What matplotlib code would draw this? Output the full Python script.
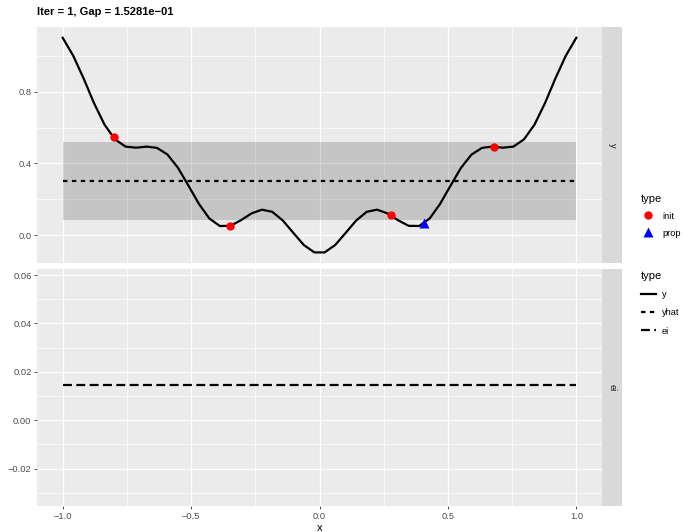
import matplotlib
matplotlib.use("Agg")
import matplotlib.pyplot as plt
from matplotlib.lines import Line2D
from matplotlib.ticker import FuncFormatter

plt.rcParams['font.family'] = ['Liberation Sans', 'DejaVu Sans']

# data
x = [-1.000, -0.959, -0.918, -0.878, -0.837, -0.796, -0.755, -0.714, -0.673, -0.633,
     -0.592, -0.551, -0.510, -0.469, -0.429, -0.388, -0.347, -0.306, -0.265, -0.224,
     -0.184, -0.143, -0.102, -0.061, -0.020, 0.020, 0.061, 0.102, 0.143, 0.184,
     0.224, 0.265, 0.306, 0.347, 0.388, 0.429, 0.469, 0.510, 0.551, 0.592,
     0.633, 0.673, 0.714, 0.755, 0.796, 0.837, 0.878, 0.918, 0.959, 1.000]
y = [1.100, 1.000, 0.872, 0.736, 0.616, 0.534, 0.494, 0.488, 0.494, 0.487,
     0.450, 0.376, 0.276, 0.174, 0.094, 0.052, 0.053, 0.084, 0.122, 0.143,
     0.131, 0.083, 0.014, -0.054, -0.095, -0.095, -0.054, 0.014, 0.083, 0.131,
     0.143, 0.122, 0.084, 0.053, 0.052, 0.094, 0.174, 0.276, 0.376, 0.450,
     0.487, 0.494, 0.488, 0.494, 0.534, 0.616, 0.736, 0.872, 1.000, 1.100]

init_x = [-0.800, -0.350, 0.277, 0.680]
init_y = [0.545, 0.054, 0.115, 0.494]
prop_x = [0.408]
prop_y = [0.066]

yhat = 0.302
band_lo = 0.083
band_hi = 0.522
ei = 0.0145

title = "Iter = 1, Gap = 1.5281e\u221201"

W, H = 683, 532
fig = plt.figure(figsize=(W / 100, H / 100), dpi=100)

TICK_FS = 6.7


def px(l, t, r, b):
    return [l / W, 1 - b / H, (r - l) / W, (b - t) / H]


def fmt(nd):
    return FuncFormatter(lambda v, p: f"{v:.{nd}f}".replace('-', '\u2212'))


def style(ax, yticks, yminor, ylim, label):
    ax.set_facecolor('#EBEBEB')
    ax.set_xlim(-1.1, 1.1)
    ax.set_ylim(*ylim)
    for s in ax.spines.values():
        s.set_visible(False)
    ax.set_xticks([-1.0, -0.5, 0.0, 0.5, 1.0])
    ax.set_xticks([-0.75, -0.25, 0.25, 0.75], minor=True)
    ax.set_yticks(yticks)
    ax.set_yticks(yminor, minor=True)
    ax.grid(True, which='major', color='white', lw=1.0)
    ax.grid(True, which='minor', color='white', lw=0.5)
    ax.set_axisbelow(True)
    ax.tick_params(which='major', length=2.5, width=0.6, color='#333333',
                   labelsize=TICK_FS, labelcolor='#4D4D4D', pad=1.5)
    ax.tick_params(which='minor', length=0)
    # facet strip on the right
    pos = ax.get_position()
    st = fig.add_axes([pos.x1, pos.y0, 20 / W, pos.height])
    st.set_facecolor('#D9D9D9')
    st.set_xticks([])
    st.set_yticks([])
    for s in st.spines.values():
        s.set_visible(False)
    st.text(0.5, 0.5, label, rotation=270, ha='center', va='center',
            fontsize=TICK_FS, color='#1A1A1A', transform=st.transAxes)


ax1 = fig.add_axes(px(37, 27, 602, 263))
ax2 = fig.add_axes(px(37, 269, 602, 506))

style(ax1, [0.0, 0.4, 0.8], [0.2, 0.6, 1.0], (-0.154, 1.160), 'y')
style(ax2, [-0.02, 0.0, 0.02, 0.04, 0.06], [-0.03, -0.01, 0.01, 0.03, 0.05],
      (-0.0355, 0.0625), 'ei')

ax1.tick_params(axis='x', labelbottom=False, length=0)
ax1.yaxis.set_major_formatter(fmt(1))
ax2.yaxis.set_major_formatter(fmt(2))
ax2.xaxis.set_major_formatter(fmt(1))

lw = 1.6
ax1.fill_between([x[0], x[-1]], band_lo, band_hi, color='black', alpha=0.16, lw=0)
ax1.plot(x, y, color='black', lw=lw, solid_joinstyle='round')
ax1.plot([x[0], x[-1]], [yhat, yhat], color='black', lw=lw, dashes=(2, 2))
ax1.plot(init_x, init_y, 'o', color='red', ms=6, mec='none', zorder=5)
ax1.plot(prop_x, prop_y, '^', color='blue', ms=6.5, mec='none', zorder=5)

ax2.plot([x[0], x[-1]], [ei, ei], color='black', lw=lw, dashes=(4, 2))

ax2.set_xlabel('x', fontsize=8, color='black', labelpad=1.5)

fig.text(37 / W, 1 - 12 / H, title, fontsize=8, fontweight='bold',
         ha='left', va='center')

leg_kw = dict(loc='upper left', frameon=False, fontsize=TICK_FS,
              title_fontsize=8, alignment='left', handlelength=1.6,
              handletextpad=0.7, borderaxespad=0)

h1 = [Line2D([], [], marker='o', color='red', ls='None', ms=6, mec='none'),
      Line2D([], [], marker='^', color='blue', ls='None', ms=6.5, mec='none')]
leg1 = fig.legend(h1, ['init', 'prop'], title='type', labelspacing=0.85,
                  bbox_to_anchor=(637 / W, 1 - 190 / H), **leg_kw)
h2 = [Line2D([], [], color='black', lw=lw),
      Line2D([], [], color='black', lw=lw, dashes=(2, 2)),
      Line2D([], [], color='black', lw=lw, dashes=(4, 2))]
leg2 = fig.legend(h2, ['y', 'yhat', 'ei'], title='type', labelspacing=1.0,
                  bbox_to_anchor=(637 / W, 1 - 267 / H), **leg_kw)

fig.savefig('out.png', dpi=100)
